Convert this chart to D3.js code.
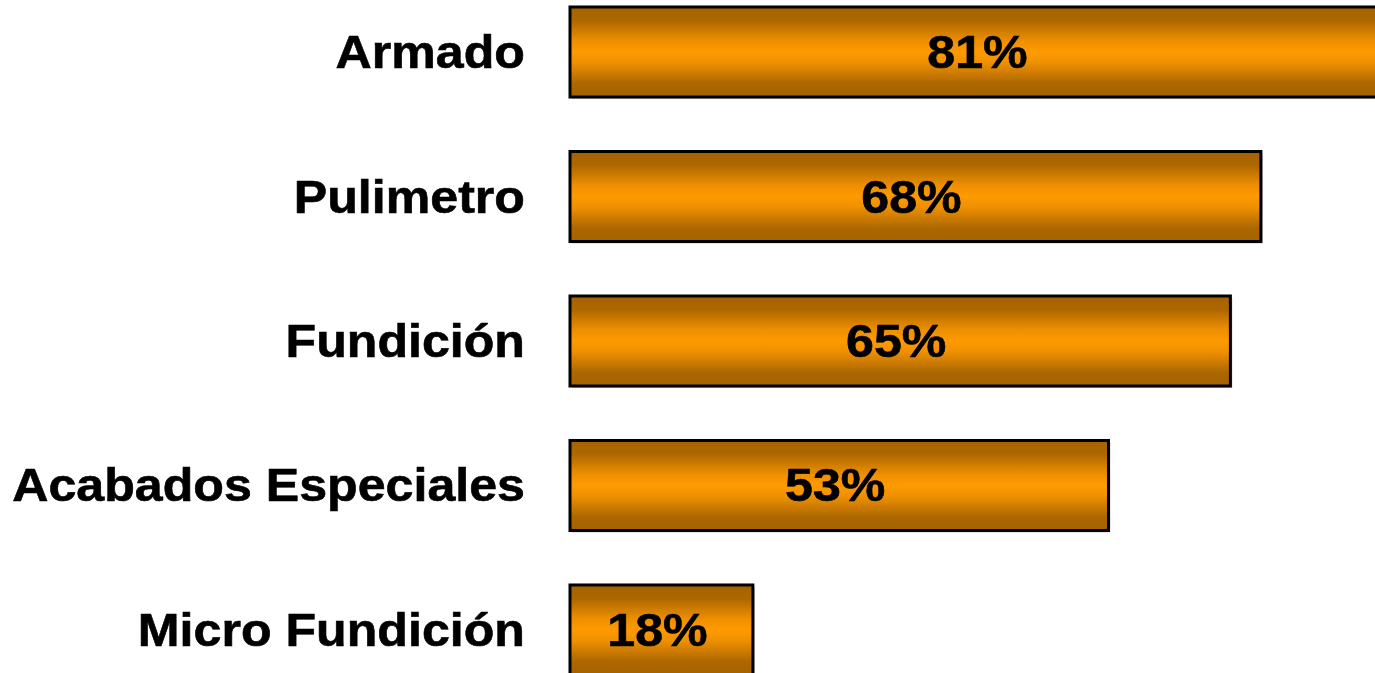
<!DOCTYPE html>
<html>
<head>
<meta charset="utf-8">
<script src="https://cdn.jsdelivr.net/npm/d3@7"></script>
<style>
  html, body { margin: 0; padding: 0; background: #fff; overflow: hidden; }
  svg { display: block; }
</style>
</head>
<body>
<svg id="chart" width="1375" height="673"></svg>
<script>
const categories = ['Armado', 'Pulimetro', 'Fundición', 'Acabados Especiales', 'Micro Fundición'];
const values = [81, 68, 65, 53, 18];
const valueLabels = ['81%', '68%', '65%', '53%', '18%'];

const BAR_X0 = 570;
const FONT = "'Liberation Sans', Arial, sans-serif";
const STRETCH = 1.09; // reference text is a bit wider than Arial

const svg = d3.select('#chart');

const x = d3.scaleLinear()
    .domain([0, 100])
    .range([BAR_X0, BAR_X0 + 1016]);

const y = d3.scaleBand()
    .domain(categories)
    .range([7, 675])
    .paddingInner(0.377)
    .paddingOuter(0);

// vertical gradient, dark edges bright middle
const grad = svg.append('defs')
    .append('linearGradient')
    .attr('id', 'barGrad')
    .attr('x1', 0).attr('y1', 0)
    .attr('x2', 0).attr('y2', 1);
[
    [0, '#a56200'],
    [0.15, '#ad6700'],
    [0.38, '#ee9000'],
    [0.5, '#ff9a00'],
    [0.62, '#ee9000'],
    [0.85, '#ad6700'],
    [1, '#a56200']
].forEach(s => grad.append('stop').attr('offset', s[0]).attr('stop-color', s[1]));

const rows = svg.append('g')
    .selectAll('g')
    .data(categories)
    .enter()
    .append('g');

// soft shadow
rows.append('rect')
    .attr('x', x(0) + 2)
    .attr('y', d => y(d) + 2)
    .attr('width', (d, i) => x(values[i]) - x(0))
    .attr('height', y.bandwidth())
    .attr('fill', '#cfcfcf');

rows.append('rect')
    .attr('x', x(0))
    .attr('y', d => y(d))
    .attr('width', (d, i) => x(values[i]) - x(0))
    .attr('height', y.bandwidth())
    .attr('fill', 'url(#barGrad)')
    .attr('stroke', '#000')
    .attr('stroke-width', 3);

const addText = (sel, anchor, fx, ftxt) => sel.append('text')
    .attr('transform', (d, i) =>
        `translate(${fx(d, i)},${y(d) + y.bandwidth() / 2 + 16}) scale(${STRETCH},1)`)
    .attr('text-anchor', anchor)
    .style('font-family', FONT)
    .style('font-weight', 'bold')
    .style('font-size', '46px')
    .attr('fill', '#000')
    .attr('stroke', '#000')
    .attr('stroke-width', 0.6)
    .text(ftxt);

addText(rows, 'end', () => 525, d => d);
addText(rows, 'middle', (d, i) => (x(0) + x(values[i])) / 2 - 4, (d, i) => valueLabels[i]);
</script>
</body>
</html>
